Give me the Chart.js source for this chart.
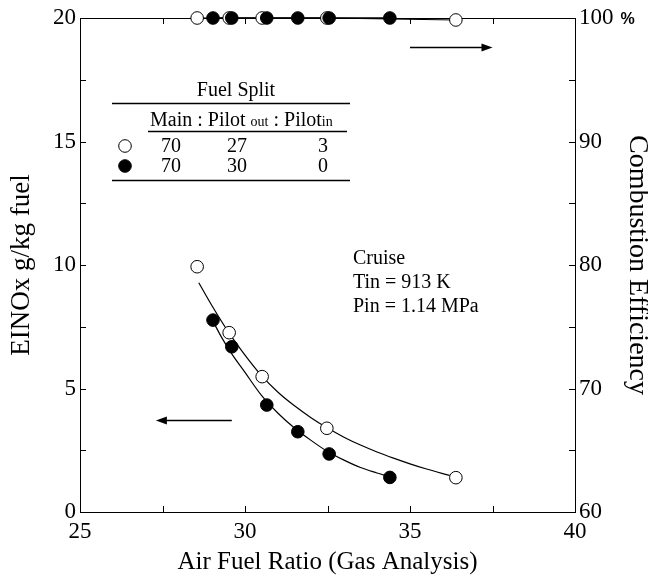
<!DOCTYPE html>
<html>
<head>
<meta charset="utf-8">
<script src="https://cdn.jsdelivr.net/npm/chart.js@4.4.1/dist/chart.umd.min.js"></script>
<style>
  html, body { margin: 0; padding: 0; background: #fff; }
</style>
</head>
<body>
<canvas id="chart" width="648" height="576"></canvas>
<script>
// air fuel ratio (gas analysis) of each run
const afrOpen = [28.55, 29.52, 30.52, 32.48, 36.39];
const afrSolid = [29.03, 29.6, 30.66, 31.6, 32.55, 34.39];

// EINOx g/kg fuel
const noxOpen = [9.93, 7.26, 5.48, 3.39, 1.39];
const noxSolid = [7.77, 6.69, 4.33, 3.25, 2.35, 1.4];

// combustion efficiency %
const effOpen = [100, 100, 100, 100, 99.84];
const effSolid = [100, 100, 100, 100, 100, 100];

// fitted curves
const fitOpenX = [28.6, 29.0, 29.5, 30.0, 30.5, 31.0, 31.5, 32.0, 32.5, 33.0, 33.5, 34.0, 34.5, 35.0, 35.5, 36.2];
const fitOpenY = [9.28, 8.35, 7.28, 6.35, 5.52, 4.85, 4.3, 3.82, 3.4, 3.03, 2.71, 2.43, 2.18, 1.95, 1.74, 1.48];
const fitSolidX = [29.0, 29.3, 29.6, 30.0, 30.5, 31.0, 31.5, 32.0, 32.5, 33.0, 33.5, 34.0, 34.39];
const fitSolidY = [7.8, 7.05, 6.4, 5.65, 4.72, 4.0, 3.4, 2.9, 2.45, 2.1, 1.8, 1.58, 1.42];

// fuel split legend table
const splitOpen = ['70', '27', '3'];
const splitSolid = ['70', '30', '0'];

const SERIF = '"Liberation Serif", "Times New Roman", serif';
Chart.defaults.font.family = SERIF;
Chart.defaults.color = '#000';

const pts = (xs, ys) => xs.map((x, i) => ({ x: x, y: ys[i] }));

function marker(fill) {
  return {
    showLine: false,
    pointRadius: 6.3,
    pointHoverRadius: 6.3,
    pointBackgroundColor: fill,
    pointBorderColor: '#000',
    pointBorderWidth: 1,
    clip: false
  };
}
function line(width) {
  return {
    showLine: true,
    pointRadius: 0,
    borderColor: '#000',
    borderWidth: width,
    clip: false
  };
}

// frame, inward ticks and the notes
const framePlugin = {
  id: 'frame',
  beforeDatasetsDraw(chart) {
    const { ctx, chartArea: a, scales } = chart;
    ctx.save();
    ctx.strokeStyle = '#000';
    ctx.lineWidth = 1;
    ctx.strokeRect(a.left + 0.5, a.top + 0.5, a.right - a.left, a.bottom - a.top);
    const len = 6;
    ctx.beginPath();
    for (let v = 27.5; v < 40; v += 2.5) {
      const px = Math.round(scales.x.getPixelForValue(v)) + 0.5;
      ctx.moveTo(px, a.bottom); ctx.lineTo(px, a.bottom - len);
      ctx.moveTo(px, a.top); ctx.lineTo(px, a.top + len);
    }
    for (let v = 2.5; v < 20; v += 2.5) {
      const py = Math.round(scales.y.getPixelForValue(v)) + 0.5;
      ctx.moveTo(a.left, py); ctx.lineTo(a.left + len, py);
    }
    for (let v = 65; v < 100; v += 5) {
      const py = Math.round(scales.y2.getPixelForValue(v)) + 0.5;
      ctx.moveTo(a.right, py); ctx.lineTo(a.right - len, py);
    }
    ctx.stroke();
    ctx.restore();
  },
  afterDraw(chart) {
    const { ctx, chartArea: a, scales } = chart;
    ctx.save();
    ctx.fillStyle = '#000';
    ctx.strokeStyle = '#000';

    // percent sign next to the 100 label
    ctx.font = '23px ' + SERIF;
    const w100 = ctx.measureText('100').width;
    ctx.font = 'bold 16px "Liberation Sans", Arial, sans-serif';
    ctx.textBaseline = 'middle';
    ctx.textAlign = 'left';
    ctx.fillText('%', a.right + 4 + w100 + 7, scales.y2.getPixelForValue(100) + 2);

    // arrows pointing to the axis each group belongs to
    const arrow = (x0, x1, yv) => {
      const px0 = scales.x.getPixelForValue(x0);
      const px1 = scales.x.getPixelForValue(x1);
      const py = Math.round(scales.y.getPixelForValue(yv)) + 0.5;
      const dir = Math.sign(px1 - px0);
      ctx.beginPath();
      ctx.lineWidth = 1.3;
      ctx.moveTo(px0, py); ctx.lineTo(px1 - dir * 8, py);
      ctx.stroke();
      ctx.beginPath();
      ctx.moveTo(px1, py);
      ctx.lineTo(px1 - dir * 11, py - 4);
      ctx.lineTo(px1 - dir * 11, py + 4);
      ctx.closePath();
      ctx.fill();
    };
    arrow(35, 37.5, 18.83);
    arrow(29.6, 27.3, 3.72);

    // operating condition
    ctx.font = '20px ' + SERIF;
    ctx.textBaseline = 'middle';
    ctx.fillText('Cruise', 353, 259);
    ctx.fillText('Tin = 913 K', 353, 283);
    ctx.fillText('Pin = 1.14 MPa', 353, 307);

    // fuel split table
    ctx.textAlign = 'center';
    ctx.fillText('Fuel Split', 236, 91);
    ctx.lineWidth = 1.5;
    ctx.beginPath();
    ctx.moveTo(112, 103.5); ctx.lineTo(350, 103.5);
    ctx.moveTo(148, 131.5); ctx.lineTo(347, 131.5);
    ctx.moveTo(112, 180.5); ctx.lineTo(350, 180.5);
    ctx.stroke();

    ctx.textAlign = 'left';
    ctx.textBaseline = 'alphabetic';
    const parts = [['Main', 20], [' : ', 20], ['Pilot', 20], [' ', 20], ['out', 14], [' : ', 20], ['Pilot', 20], ['in', 14]];
    let hx = 150;
    parts.forEach(([t, size]) => {
      ctx.font = size + 'px ' + SERIF;
      ctx.fillText(t, hx, 126);
      hx += ctx.measureText(t).width;
    });

    ctx.font = '20px ' + SERIF;
    ctx.textAlign = 'center';
    ctx.textBaseline = 'middle';
    const cols = [171, 237, 323];
    const rows = [[splitOpen, '#fff', 146], [splitSolid, '#000', 166]];
    rows.forEach(([vals, fill, y]) => {
      ctx.beginPath();
      ctx.arc(125, y, 6.3, 0, Math.PI * 2);
      ctx.fillStyle = fill;
      ctx.fill();
      ctx.lineWidth = 1;
      ctx.stroke();
      ctx.fillStyle = '#000';
      vals.forEach((t, i) => ctx.fillText(t, cols[i], y + 1));
    });
    ctx.restore();
  }
};

new Chart(document.getElementById('chart'), {
  type: 'scatter',
  data: {
    datasets: [
      { data: pts(afrSolid, noxSolid), yAxisID: 'y', ...marker('#000') },
      { data: pts(afrSolid, effSolid), yAxisID: 'y2', ...marker('#000') },
      { data: pts(afrOpen, noxOpen), yAxisID: 'y', ...marker('#fff') },
      { data: pts(afrOpen, effOpen), yAxisID: 'y2', ...marker('#fff') },
      { data: pts(afrSolid, effSolid), yAxisID: 'y2', ...line(1.5) },
      { data: pts(afrOpen, effOpen), yAxisID: 'y2', ...line(1.2) },
      { data: pts(fitSolidX, fitSolidY), yAxisID: 'y', cubicInterpolationMode: 'monotone', ...line(1.2) },
      { data: pts(fitOpenX, fitOpenY), yAxisID: 'y', cubicInterpolationMode: 'monotone', ...line(1.2) }
    ]
  },
  options: {
    responsive: false,
    animation: false,
    devicePixelRatio: 1,
    layout: { padding: { top: 18, left: 0, right: 0, bottom: 0 } },
    plugins: { legend: { display: false }, tooltip: { enabled: false } },
    scales: {
      x: {
        type: 'linear', position: 'bottom', min: 25, max: 40,
        ticks: { stepSize: 5, font: { size: 23 }, color: '#000', padding: 6, maxRotation: 0 },
        grid: { display: false, drawTicks: false },
        border: { display: false },
        title: { display: true, text: 'Air Fuel Ratio (Gas Analysis)', font: { size: 25 }, color: '#000', padding: { top: 0, bottom: -1 } },
        afterFit: s => { s.height = 64; }
      },
      y: {
        type: 'linear', position: 'left', min: 0, max: 20,
        ticks: { stepSize: 5, font: { size: 23 }, color: '#000', padding: 4 },
        grid: { display: false, drawTicks: false },
        border: { display: false },
        title: { display: true, text: 'EINOx g/kg fuel', font: { size: 27 }, color: '#000', padding: { top: 6 } },
        afterFit: s => { s.width = 80; }
      },
      y2: {
        type: 'linear', position: 'right', min: 60, max: 100,
        ticks: { stepSize: 10, font: { size: 23 }, color: '#000', padding: 4 },
        grid: { display: false, drawTicks: false },
        border: { display: false },
        title: { display: true, text: 'Combustion Efficiency', font: { size: 28 }, color: '#000', padding: { top: -6 } },
        afterFit: s => { s.width = 73; }
      }
    }
  },
  plugins: [framePlugin]
});
</script>
</body>
</html>
